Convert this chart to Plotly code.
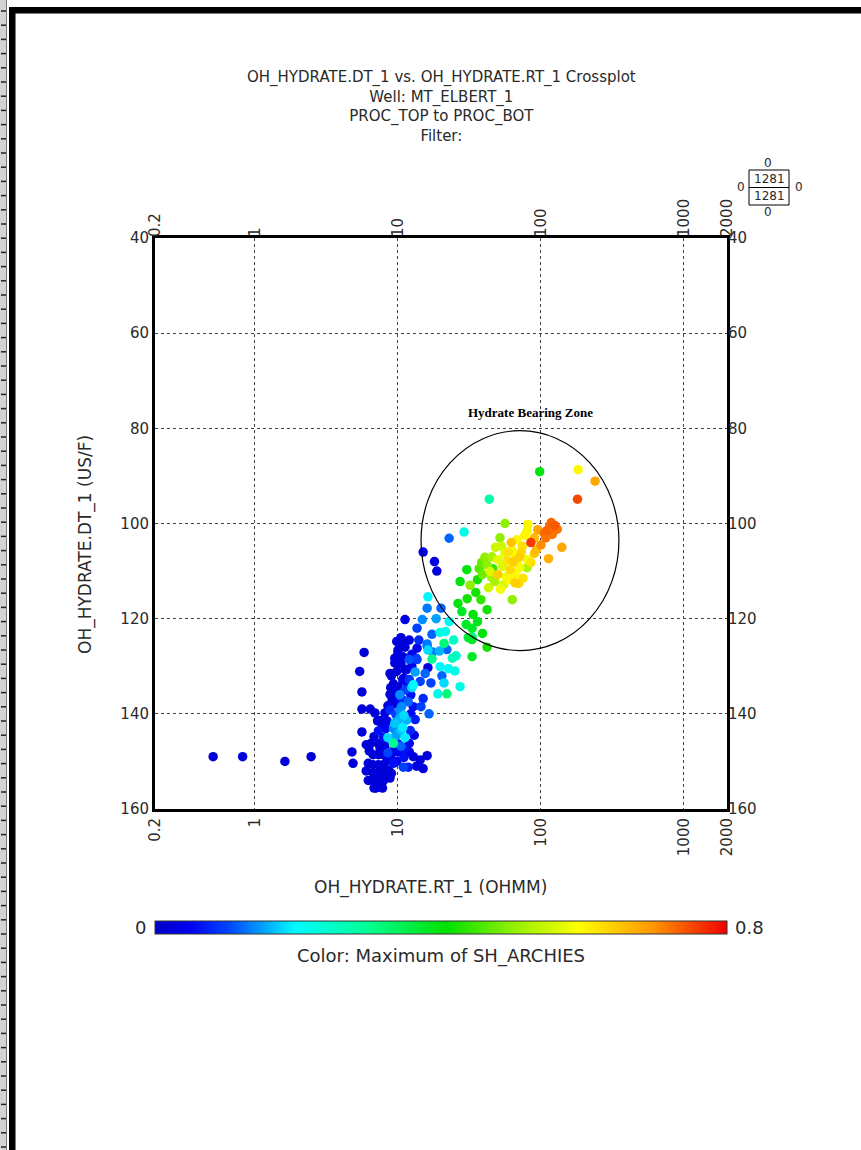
import math
import numpy as np
import plotly.graph_objects as go

# ---------------- data ----------------
rt_ohmm = [
    98, 182, 239, 180, 43.5, 29, 22.8, 56, 81, 80, 115, 125, 110, 95, 120, 108, 85, 140, 113, 93, 90, 118, 130,
    51.7, 62, 68, 74, 63, 56, 71, 80, 64, 50, 45.5, 40.5, 38.5, 46, 54, 61, 71, 80, 50, 57, 70, 36, 39, 30.3,
    27.2, 32, 63, 44, 66, 55, 47.5, 59, 66, 48, 75, 43,
    16.2, 26.3, 30.5, 42, 16, 20, 11.2, 14.8, 22.8, 30, 33.5, 36, 33, 39, 13.6, 17.3, 19.7, 21.5, 21, 22, 33, 42,
    16, 13.6, 10.8, 10, 9.5, 16.2, 17.3, 24, 25.5, 33, 13.4, 16.2, 19.7, 20.3, 27.2, 19, 22, 11.2, 10.8, 10,
    12.8, 14.3, 18.7, 18, 15, 33, 16, 17.5, 13.6,
    0.51, 0.82, 1.62, 2.47, 4.77, 4.85, 5.6, 5.6, 5.6, 5.4, 5.8, 6.0, 6.2, 6.4, 6.9, 7.3, 7.9,
    6.7, 7.3, 7.9, 6.7, 7.3, 7.9, 6.7, 7.3, 7.9, 6.7, 7.3, 7.9, 7.0, 7.8,
    6.4, 7.3, 8.1, 8.5, 9.3, 8.6, 8.8, 10.9, 11.8, 12.8, 14.3, 16, 10.0,
    10, 9.5, 9.8, 11.5, 9.3, 9.3, 9.3, 8.5, 8.1, 7.5, 8.2, 8.0, 10.8, 11.8, 12.5, 15, 13.2, 8.8, 10.3, 9.5,
    10.8, 8.5, 11.2, 9.3, 10, 9.3, 10.3, 11.5, 9.7, 11.2, 10.3, 12.0, 10.3, 12.0, 13.2, 9.1, 10, 11.2, 9.5,
    12.8, 12.2, 8.9, 9.0, 8.8,
    # extra fill of the dense column
    10.5, 11.0, 8.9, 9.8, 11.5, 12.3, 12.5, 8.8,
    7.2, 7.8, 6.8, 8.4, 12.3, 13.0, 12.0, 7.5, 8.4, 9.8, 11.0, 12.0, 13.5, 15.0, 9.0, 10.5, 10.0, 10.6, 11.0,
    9.6, 10.5,
    6.0, 6.2, 6.3, 6.8,
    10.5, 11.2, 12.0, 9.8, 10.8, 12.5,
    # extra fill of the hydrate cluster
    58, 68, 73, 77, 53, 60, 66, 52, 45, 37, 42, 85, 90, 100, 105,
    35, 28, 38, 31,
    18.5, 24.5, 14, 19.5, 22.5, 15.5, 17, 25, 21, 14.5, 16.5,
]
dt_usf = [
    89.1, 88.7, 91.1, 94.9, 94.9, 101.8, 103.1, 100.0, 100.2, 101.5, 100.6, 100.4, 101.5, 101.3, 102.3, 103.0,
    104.0, 105.0, 107.4, 105.5, 106.3, 99.8, 101.2,
    103.0, 104.0, 103.4, 104.8, 105.7, 106.3, 107.0, 107.6, 108.0, 107.6, 107.0, 107.1, 108.2, 109.5, 109.0,
    109.7, 109.3, 109.3, 110.7, 111.2, 112.6, 111.8, 110.7, 109.7, 112.2, 113.0, 116.0, 110.1, 110.7, 112.8,
    112.2, 106.0, 106.5, 105.0, 111.5, 113.5,
    115.4, 116.8, 115.8, 118.1, 117.8, 117.8, 120.2, 120.2, 120.6, 121.2, 119.1, 120.6, 122.0, 123.1, 122.0,
    123.3, 122.9, 122.7, 125.2, 126.5, 124.4, 126.0, 125.3, 126.2, 125.1, 126.6, 128.3, 126.6, 128.5, 128.3,
    127.8, 128.0, 128.3, 130.3, 130.1, 132.0, 134.3, 135.8, 135.8, 130.7, 132.8, 134.3, 133.9, 133.2, 110.0,
    108.0, 106.0, 123.8, 125.8, 127.0, 128.6,
    149.0, 149.0, 150.0, 149.0, 148.0, 150.4, 143.8, 139.0, 135.4, 131.1, 127.1, 146.5, 150.4, 139.0, 139.8,
    143.6, 145.0,
    148.6, 148.6, 148.6, 150.7, 150.7, 150.7, 152.4, 152.4, 152.4, 154.1, 154.1, 154.1, 155.6, 155.6,
    146.3, 146.3, 147.0, 148.2, 150.4, 151.8, 153.5, 151.2, 151.2, 149.0, 149.7, 148.8, 148.0,
    127.2, 129.3, 131.1, 130.7, 133.7, 135.2, 136.6, 138.3, 139.8, 141.4, 143.1, 146.3, 137.1, 137.5, 134.5,
    136.8, 141.2, 139.2, 139.2, 142.0,
    142.9, 145.0, 145.0, 146.2, 144.2, 143.1, 140.8, 141.3, 140.2, 135.0, 136.0, 132.8, 128.6, 128.6, 131.2,
    137.1, 146.3, 147.4, 147.4,
    138.5, 143.5, 148.8, 132.0, 135.9,
    129.5, 132.5, 134.5, 138.0, 133.5, 136.0, 130.0, 131.5,
    141.5, 142.8, 144.8, 141.5, 140.0, 144.5, 146.2, 147.5, 149.8, 150.0, 149.2, 148.0, 151.0, 151.5, 152.5,
    146.8, 141.5, 138.5, 140.3, 144.8, 143.5,
    152.0, 154.0, 147.8, 155.6,
    124.0, 126.0, 124.5, 124.8, 128.0, 127.5,
    107.8, 108.3, 106.0, 102.5, 104.8, 111.8, 112.5, 113.8, 111.2, 109.5, 108.7, 108.2, 103.0, 104.5, 102.0,
    114.5, 118.5, 116.0, 124.0,
    120.0, 124.5, 124.5, 126.8, 130.5, 131.5, 133.5, 131.0, 133.5, 138.5, 140.0,
]
sh_archies = [
    0.40, 0.60, 0.68, 0.75, 0.28, 0.22, 0.12, 0.50, 0.60, 0.58, 0.72, 0.74, 0.73, 0.68, 0.72, 0.72, 0.76, 0.68,
    0.67, 0.66, 0.65, 0.73, 0.72,
    0.50, 0.65, 0.60, 0.62, 0.58, 0.57, 0.64, 0.58, 0.64, 0.57, 0.52, 0.50, 0.47, 0.44, 0.56, 0.63, 0.58, 0.52,
    0.64, 0.58, 0.63, 0.42, 0.48, 0.40, 0.40, 0.50, 0.50, 0.56, 0.60, 0.56, 0.52, 0.62, 0.60, 0.55, 0.62, 0.55,
    0.20, 0.40, 0.42, 0.42, 0.13, 0.12, 0.03, 0.14, 0.21, 0.38, 0.40, 0.39, 0.38, 0.40, 0.10, 0.12, 0.22, 0.22,
    0.32, 0.12, 0.38, 0.42, 0.13, 0.04, 0.02, 0.02, 0.03, 0.18, 0.30, 0.26, 0.25, 0.38, 0.08, 0.03, 0.20, 0.12,
    0.22, 0.22, 0.32, 0.02, 0.02, 0.02, 0.20, 0.10, 0.03, 0.03, 0.04, 0.28, 0.12, 0.13, 0.10,
    0.02, 0.02, 0.02, 0.02, 0.02, 0.02, 0.02, 0.02, 0.02, 0.02, 0.02, 0.02, 0.02, 0.02, 0.02, 0.06, 0.06,
    0.02, 0.02, 0.02, 0.02, 0.02, 0.02, 0.02, 0.02, 0.02, 0.02, 0.02, 0.02, 0.02, 0.02,
    0.02, 0.02, 0.02, 0.10, 0.06, 0.02, 0.02, 0.10, 0.07, 0.02, 0.02, 0.02, 0.05,
    0.02, 0.02, 0.02, 0.02, 0.02, 0.02, 0.02, 0.02, 0.02, 0.02, 0.05, 0.02, 0.08, 0.12, 0.18, 0.08, 0.07, 0.08,
    0.14, 0.17,
    0.19, 0.18, 0.19, 0.30, 0.15, 0.14, 0.15, 0.16, 0.10, 0.10, 0.14, 0.09, 0.03, 0.11, 0.15, 0.02, 0.06, 0.06,
    0.03,
    0.06, 0.08, 0.04, 0.02, 0.02,
    0.02, 0.03, 0.02, 0.04, 0.05, 0.06, 0.04, 0.02,
    0.02, 0.02, 0.02, 0.04, 0.05, 0.04, 0.05, 0.02, 0.03, 0.05, 0.06, 0.04, 0.03, 0.03, 0.02, 0.12, 0.16, 0.14,
    0.18, 0.15, 0.17,
    0.02, 0.02, 0.02, 0.02,
    0.02, 0.02, 0.03, 0.02, 0.03, 0.05,
    0.62, 0.60, 0.63, 0.60, 0.55, 0.60, 0.64, 0.58, 0.52, 0.46, 0.50, 0.62, 0.66, 0.70, 0.72,
    0.42, 0.38, 0.44, 0.36,
    0.15, 0.25, 0.08, 0.16, 0.20, 0.12, 0.10, 0.22, 0.18, 0.10, 0.12,
]

x_tickvals = [0.2, 1, 10, 100, 1000, 2000]
x_ticktext = ["0.2", "1", "10", "100", "1000", "2000"]
y_tickvals = [40, 60, 80, 100, 120, 140, 160]
x_range = [0.2, 2000]
y_range = [160, 40]
color_range = [0, 0.8]

title_lines = ["OH_HYDRATE.DT_1 vs. OH_HYDRATE.RT_1 Crossplot",
               "Well: MT_ELBERT_1", "PROC_TOP to PROC_BOT", "Filter:"]
x_title = "OH_HYDRATE.RT_1 (OHMM)"
y_title = "OH_HYDRATE.DT_1 (US/F)"
color_title = "Color: Maximum of SH_ARCHIES"
zone_label = "Hydrate Bearing Zone"
zone_rt = [14.5, 351]     # circle extent in RT
zone_dt = [80.5, 126.7]   # circle extent in DT
counts_center = 1281
counts_edges = [0, 0, 0, 0]  # top, bottom, left, right

# ---------------- figure ----------------
rt = np.array(rt_ohmm, dtype=float)
dt = np.array(dt_usf, dtype=float)
sh = np.array(sh_archies, dtype=float)
order = np.argsort(sh, kind="stable")
rt, dt, sh = rt[order], dt[order], sh[order]

jet = [
    [0.0, "rgb(0,0,200)"], [0.06, "rgb(0,0,240)"], [0.13, "rgb(0,70,255)"],
    [0.245, "rgb(0,250,255)"], [0.37, "rgb(0,255,150)"], [0.51, "rgb(0,225,0)"],
    [0.63, "rgb(150,240,0)"], [0.74, "rgb(255,255,0)"], [0.87, "rgb(255,150,0)"],
    [1.0, "rgb(240,0,0)"],
]

W, H = 861, 1150
L, R, T, B = 155, 134, 238, 341
PW, PH = W - L - R, H - T - B


def px(x):
    return (x - L) / PW


def py(y):
    return (H - B - y) / PH


FONT = "DejaVu Sans"
TXT = "#2a2a2a"

fig = go.Figure()
fig.add_trace(go.Scatter(
    x=rt, y=dt, mode="markers",
    marker=dict(size=9.5, color=sh, colorscale=jet, cmin=color_range[0], cmax=color_range[1],
                line=dict(width=0),
                colorbar=dict(orientation="h", x=0.5, xanchor="center", y=py(921), yanchor="top",
                              lenmode="pixels", len=PW, thickness=13, xpad=0, ypad=0,
                              outlinewidth=1, outlinecolor="#333", showticklabels=False, ticks="")),
    showlegend=False, hoverinfo="skip",
))
# transparent copy on the mirrored axes (top / right tick labels)
fig.add_trace(go.Scatter(x=rt, y=dt, mode="markers", xaxis="x2", yaxis="y2",
                         marker=dict(size=1, opacity=0), showlegend=False, hoverinfo="skip"))

tickfont = dict(family=FONT, size=15, color=TXT)
fig.update_layout(
    width=W, height=H, margin=dict(l=L, r=R, t=T, b=B, pad=0),
    paper_bgcolor="white", plot_bgcolor="white",
    xaxis=dict(type="log", range=[math.log10(x_range[0]), math.log10(x_range[1])],
               tickvals=x_tickvals, ticktext=x_ticktext, tickangle=-90, tickfont=tickfont,
               showgrid=True, gridcolor="#444", griddash="dot", gridwidth=1,
               showline=True, linecolor="black", linewidth=3, mirror=True, ticks="", zeroline=False),
    yaxis=dict(range=y_range, tickvals=y_tickvals, tickfont=tickfont,
               showgrid=True, gridcolor="#444", griddash="dot", gridwidth=1,
               showline=True, linecolor="black", linewidth=3, mirror=True, ticks="", zeroline=False),
    xaxis2=dict(type="log", overlaying="x", side="top", anchor="y2", matches="x",
                tickvals=x_tickvals, ticktext=x_ticktext, tickangle=-90, tickfont=tickfont,
                showgrid=False, showline=False, ticks="", zeroline=False),
    yaxis2=dict(overlaying="y", side="right", anchor="x2", matches="y",
                tickvals=y_tickvals, tickfont=tickfont,
                showgrid=False, showline=False, ticks="", zeroline=False),
)

ann = []
ann.append(dict(text="<br>".join(title_lines), x=px(441), y=py(106), xref="paper", yref="paper",
                showarrow=False, xanchor="center", yanchor="middle", align="center",
                font=dict(family=FONT, size=15, color=TXT)))
ann.append(dict(text=x_title, x=px(430), y=py(887), xref="paper", yref="paper", showarrow=False,
                xanchor="center", yanchor="middle", font=dict(family=FONT, size=17, color=TXT)))
ann.append(dict(text=y_title, x=px(85), y=py(545), xref="paper", yref="paper", showarrow=False,
                textangle=-90, xanchor="center", yanchor="middle",
                font=dict(family=FONT, size=17, color=TXT)))
ann.append(dict(text=color_title, x=px(441), y=py(956), xref="paper", yref="paper", showarrow=False,
                xanchor="center", yanchor="middle", font=dict(family=FONT, size=18, color=TXT)))
ann.append(dict(text=f"{color_range[0]:g}", x=px(148), y=py(927), xref="paper", yref="paper",
                showarrow=False, xanchor="right", yanchor="middle",
                font=dict(family=FONT, size=18, color=TXT)))
ann.append(dict(text=f"{color_range[1]:g}", x=px(733), y=py(927), xref="paper", yref="paper",
                showarrow=False, xanchor="left", yanchor="middle",
                font=dict(family=FONT, size=18, color=TXT)))
ann.append(dict(text=f"<b>{zone_label}</b>", x=px(530), y=py(412), xref="paper", yref="paper",
                showarrow=False, xanchor="center", yanchor="middle",
                font=dict(family="Liberation Serif", size=13, color="black")))
# counts box labels
cfont = dict(family=FONT, size=12, color=TXT)
for txt, cx, cy in [(counts_edges[0], 768, 163), (counts_center, 769, 179), (counts_center, 769, 196),
                    (counts_edges[1], 768, 212), (counts_edges[2], 741, 187), (counts_edges[3], 799, 187)]:
    ann.append(dict(text=str(txt), x=px(cx), y=py(cy), xref="paper", yref="paper", showarrow=False,
                    xanchor="center", yanchor="middle", font=cfont))
fig.update_layout(annotations=ann)

shapes = [
    # hydrate bearing zone circle (data coordinates)
    dict(type="circle", xref="x", yref="y", x0=zone_rt[0], x1=zone_rt[1],
         y0=zone_dt[0], y1=zone_dt[1], line=dict(color="black", width=1.2)),
    # counts box
    dict(type="rect", xref="paper", yref="paper", x0=px(749), x1=px(789), y0=py(205), y1=py(170),
         line=dict(color="black", width=1)),
    dict(type="line", xref="paper", yref="paper", x0=px(749), x1=px(789), y0=py(187.5), y1=py(187.5),
         line=dict(color="black", width=1)),
    # page frame: grey ruler strip, black left band, black top band
    dict(type="rect", xref="paper", yref="paper", x0=px(0), x1=px(6), y0=py(H), y1=py(0),
         fillcolor="#d4d4d4", line=dict(width=0), layer="above"),
    dict(type="line", xref="paper", yref="paper", x0=px(6.5), x1=px(6.5), y0=py(H), y1=py(0),
         line=dict(color="#777", width=1)),
    dict(type="rect", xref="paper", yref="paper", x0=px(9), x1=px(15.5), y0=py(H), y1=py(7),
         fillcolor="black", line=dict(width=0), layer="above"),
    dict(type="rect", xref="paper", yref="paper", x0=px(9), x1=px(W), y0=py(13.5), y1=py(7),
         fillcolor="black", line=dict(width=0), layer="above"),
]
for yy in np.arange(11, H, 14.2):
    shapes.append(dict(type="line", xref="paper", yref="paper", x0=px(1), x1=px(6), y0=py(yy), y1=py(yy),
                       line=dict(color="#222", width=1.5), layer="above"))
fig.update_layout(shapes=shapes)

fig.write_html("out.html")
